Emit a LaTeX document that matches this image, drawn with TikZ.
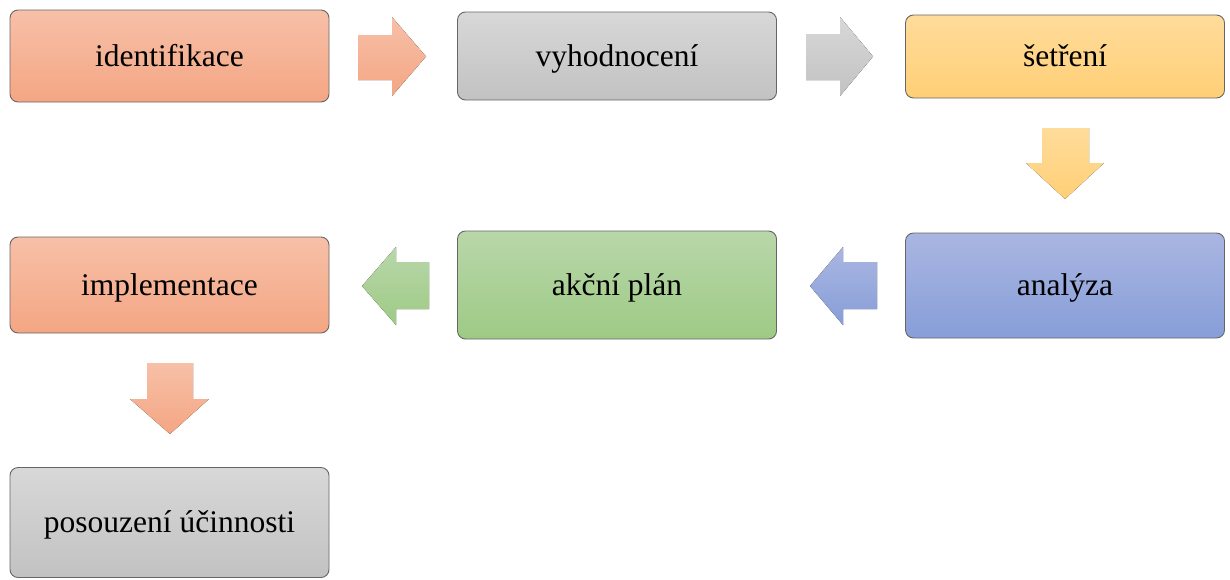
\documentclass[tikz,border=0pt]{standalone}
\usepackage{fontspec}
\setmainfont{Liberation Serif}
\begin{document}
\begin{tikzpicture}[x=1pt,y=-1pt,
  stepbox/.style={draw=black!60, line width=0.9pt, rounded corners=8pt,
    inner sep=0pt, outer sep=0pt, minimum width=319pt,
    text height=20pt, text depth=0pt,
    font=\fontsize{31.5}{36}\selectfont},
  blockarrow/.style={draw=none}]
\definecolor{orT}{RGB}{247,192,168}\definecolor{orB}{RGB}{244,166,131}
\definecolor{grT}{RGB}{216,216,216}\definecolor{grB}{RGB}{194,194,194}
\definecolor{yeT}{RGB}{255,220,155}\definecolor{yeB}{RGB}{255,207,118}
\definecolor{gnT}{RGB}{185,215,170}\definecolor{gnB}{RGB}{158,202,133}
\definecolor{blT}{RGB}{170,182,225}\definecolor{blB}{RGB}{135,158,217}
\tikzset{
  orange/.style={top color=orT, bottom color=orB},
  grey/.style={top color=grT, bottom color=grB},
  yellow/.style={top color=yeT, bottom color=yeB},
  green/.style={top color=gnT, bottom color=gnB},
  blue/.style={top color=blT, bottom color=blB}}
\useasboundingbox (0,0) rectangle (1230,579);

% process steps
\node[stepbox, orange, minimum height=92pt]  (ident) at (169.5,56)   {identifikace};
\node[stepbox, grey,   minimum height=88pt]  (vyhod) at (617,56)     {vyhodnocení};
\node[stepbox, yellow, minimum height=83pt]  (setr)  at (1065,56.5)  {šetření};
\node[stepbox, blue,   minimum height=105pt] (anal)  at (1065,285.5) {analýza};
\node[stepbox, green,  minimum height=108pt] (akce)  at (617,285)    {akční plán};
\node[stepbox, orange, minimum height=96pt]  (impl)  at (169.5,285)  {implementace};
\node[stepbox, grey,   minimum height=110pt] (posou) at (169.5,522.5){posouzení účinnosti};

% block arrows between the steps
\fill[blockarrow, orange] (358,35) -- (392,35) -- (392,17) -- (426,56.5) -- (392,96) -- (392,80) -- (358,80) -- cycle;
\fill[blockarrow, grey] (806,34) -- (840,34) -- (840,17) -- (873,56.5) -- (840,96) -- (840,80) -- (806,80) -- cycle;
\fill[blockarrow, yellow] (1042,128) -- (1089,128) -- (1089,163) -- (1104,163) -- (1065,199) -- (1026,163) -- (1042,163) -- cycle;
\fill[blockarrow, blue] (877,262) -- (843,262) -- (843,247) -- (810,286) -- (843,325) -- (843,309) -- (877,309) -- cycle;
\fill[blockarrow, green] (429,262) -- (396,262) -- (396,247) -- (362,286) -- (396,325) -- (396,309) -- (429,309) -- cycle;
\fill[blockarrow, orange] (147,363) -- (193,363) -- (193,399) -- (209,399) -- (170,434) -- (130,399) -- (147,399) -- cycle;
\end{tikzpicture}
\end{document}
